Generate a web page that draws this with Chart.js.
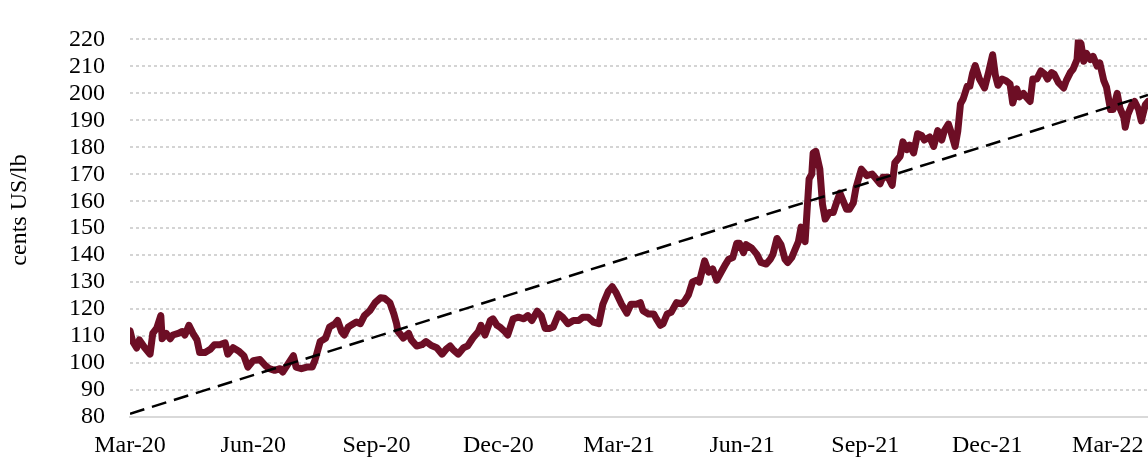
<!DOCTYPE html>
<html>
<head>
<meta charset="utf-8">
<script src="https://cdn.jsdelivr.net/npm/chart.js@4"></script>
<style>
  html, body { margin: 0; padding: 0; background: #ffffff; }
  #wrap { width: 1148px; height: 462px; }
</style>
</head>
<body>
<div id="wrap"><canvas id="c" width="1148" height="462"></canvas></div>
<script>
// Days since 1 Mar 2020
const days = [0,2,5,7,11,15,17,20,23,24,27,30,32,36,39,41,44,47,50,52,56,60,63,67,71,73,77,81,85,88,92,97,101,104,108,112,114,118,122,124,128,132,136,138,142,146,149,153,155,158,160,163,165,169,172,175,179,183,187,190,194,197,199,200,204,208,210,214,218,221,225,229,233,236,239,241,245,249,252,256,260,262,265,269,271,274,276,280,282,286,290,294,297,300,304,307,310,313,316,320,323,327,331,335,338,342,346,350,353,357,360,363,367,371,374,378,381,383,387,391,393,396,398,401,404,408,412,414,417,420,423,425,429,432,435,438,442,444,447,450,453,455,458,460,464,468,471,475,478,480,483,486,489,491,494,496,499,501,504,505,507,509,510,512,515,517,519,522,525,527,530,532,535,537,540,542,546,550,554,557,560,562,566,569,571,575,577,580,582,585,588,591,593,597,600,603,606,608,611,613,616,618,620,622,625,627,629,631,634,638,641,644,646,648,651,654,657,659,662,664,667,669,672,674,677,680,683,685,688,690,693,697,699,702,704,707,708,710,712,714,717,719,722,724,727,729,732,734,737,739,742,743,745,748,750,753,755,758,760];
// Price, cents US/lb
const prices = [112,108,105.6,108.6,105.7,103.3,111,113,117.6,109,111,109,110.4,111,111.7,110.4,114,111,108.6,103.9,103.9,105.1,106.8,106.8,107.5,103.3,105.7,104.5,102.7,98.5,100.9,101.3,99.1,97.9,97.3,97.9,96.7,99.7,102.7,98.5,97.9,98.5,98.5,100.9,108,109.2,113.4,114.6,115.8,111.6,110.4,113.4,114,115.2,114.6,117.6,119.4,122.4,124.2,124,122.4,118.2,114.6,111.8,109.3,111,108.6,106.3,106.8,108,106.5,105.7,103.3,105.1,106.3,105.1,103.3,105.7,106.3,109.3,111.6,114,110.4,115.8,116.4,114,113.4,111.6,110.4,116.4,117,116.4,117.6,115.8,119.2,117.6,112.8,112.8,113.4,118.2,117,114.6,115.8,115.8,117,117,115.2,114.6,121.8,126.5,128.3,126,121.8,118.5,121.8,121.8,122.4,119.4,118.2,118.2,116.4,114,114.6,118.2,118.8,122.4,122,123,125.4,130.1,130.7,130,137.9,133.7,134.9,130.7,134.3,136.1,138.5,139.1,144.4,144.4,140.9,143.9,142.7,140.3,137.3,136.7,138.5,140.3,146.2,143.9,138.5,137.3,139.1,141.5,145,150.4,145,152.8,168.3,170.1,177.9,178.5,171.9,158.8,153.4,155.8,155.8,158.8,163,160.6,157,157,159.4,165,171.9,169.5,170.1,168.3,166.5,168.9,168.9,165.9,174.3,176.7,182,179.1,180.8,177.9,185,184.4,182.7,183.8,180.3,186.2,182.7,186.2,188.6,185.6,180.3,186,196.1,197.9,202.6,202.6,207.4,210.3,205.5,202,207.9,214.3,206.8,203,205.3,204.7,203.5,196.4,201.7,198.7,200,198.7,197,205.3,205.3,208.3,207.1,205.3,207.7,207.1,204.1,202,204.7,207.7,208.9,212.5,219.6,218.4,211.9,214.8,212.5,213.7,210.1,211.3,204.7,202.3,194,194,200,194.6,191,187.4,192.2,195.8,197,194,189.8,195.8,197];
// Linear trend end points
const trendDays = [0, 760];
const trendValues = [81.2, 199.4];
// X tick positions (days since 1 Mar 2020) and labels
const tickDays = [0, 92, 184, 275, 365, 457, 549, 640, 730];
const tickLabels = ['Mar-20','Jun-20','Sep-20','Dec-20','Mar-21','Jun-21','Sep-21','Dec-21','Mar-22'];
const yTitle = 'cents US/lb';

const FONT = "'Liberation Serif', 'Times New Roman', serif";

const titlePlugin = {
  id: 'yTitle',
  afterDraw(chart) {
    const ctx = chart.ctx;
    ctx.save();
    ctx.translate(20, 210);
    ctx.rotate(-Math.PI / 2);
    ctx.font = "24px " + FONT;
    ctx.fillStyle = '#000000';
    ctx.textAlign = 'center';
    ctx.textBaseline = 'middle';
    ctx.fillText(yTitle, 0, 0);
    ctx.restore();
  }
};

new Chart(document.getElementById('c'), {
  type: 'line',
  data: {
    datasets: [
      {
        label: 'Trend',
        data: trendDays.map((d, i) => ({ x: d, y: trendValues[i] })),
        borderColor: '#000000',
        borderWidth: 2.5,
        borderDash: [15, 8],
        pointRadius: 0,
        tension: 0,
        fill: false
      },
      {
        label: 'Price',
        data: days.map((d, i) => ({ x: d, y: prices[i] })),
        borderColor: '#6D0E25',
        borderWidth: 7,
        borderJoinStyle: 'round',
        borderCapStyle: 'round',
        pointRadius: 0,
        tension: 0,
        fill: false
      }
    ]
  },
  options: {
    responsive: false,
    animation: false,
    layout: { padding: { top: 26, right: 0, bottom: 0, left: 0 } },
    plugins: {
      legend: { display: false },
      tooltip: { enabled: false }
    },
    scales: {
      x: {
        type: 'linear',
        min: 0,
        max: 760,
        afterBuildTicks: (scale) => { scale.ticks = tickDays.map(v => ({ value: v })); },
        afterFit: (scale) => { scale.height = 45; scale.paddingLeft = 0; scale.paddingRight = 0; },
        grid: { display: false, drawTicks: false },
        border: { display: true, color: '#D9D9D9', width: 2 },
        ticks: {
          autoSkip: false,
          maxRotation: 0,
          padding: 14,
          color: '#000000',
          font: { family: FONT, size: 24 },
          callback: (value, index) => tickLabels[index]
        }
      },
      y: {
        type: 'linear',
        min: 80,
        max: 220,
        afterFit: (scale) => { scale.width = 130; },
        grid: {
          drawTicks: false,
          lineWidth: 2,
          color: (ctx) => (ctx.tick && ctx.tick.value === 80) ? 'rgba(0,0,0,0)' : '#D4D4D4'
        },
        border: { display: false, dash: [3, 3] },
        ticks: {
          stepSize: 10,
          maxTicksLimit: 20,
          autoSkip: false,
          padding: 25,
          color: '#000000',
          font: { family: FONT, size: 24 }
        }
      }
    }
  },
  plugins: [titlePlugin]
});
</script>
</body>
</html>
